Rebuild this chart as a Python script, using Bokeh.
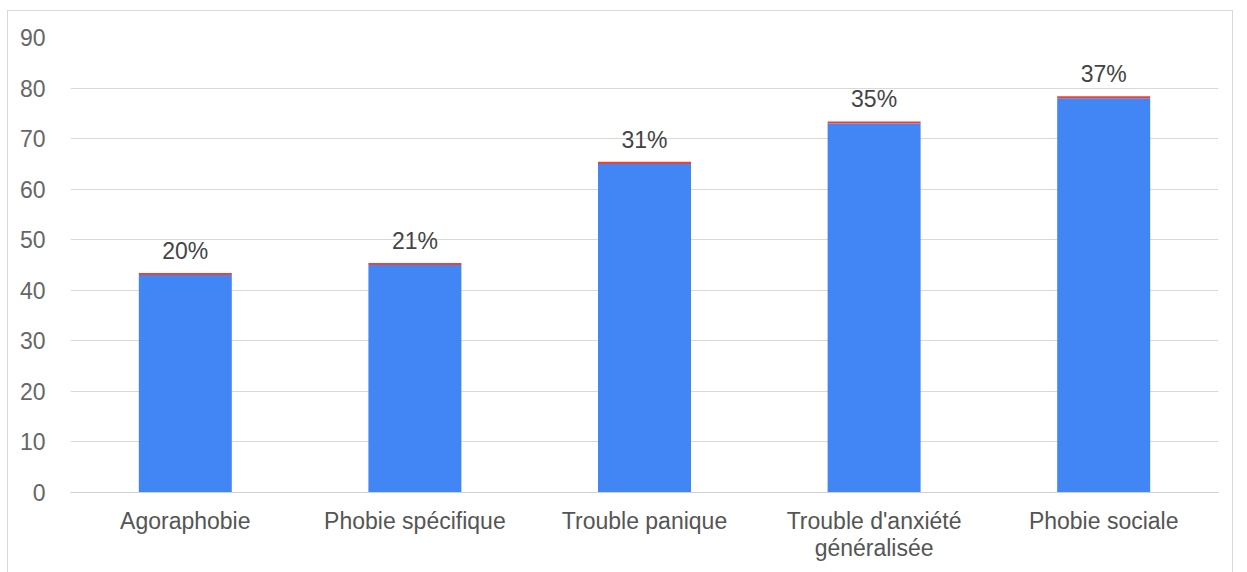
from bokeh.plotting import figure
from bokeh.models import ColumnDataSource, FactorRange, Range1d, SingleIntervalTicker, LabelSet
from bokeh.core.properties import value
from bokeh.embed import file_html
from bokeh.resources import INLINE

categories = ["Agoraphobie", "Phobie spécifique", "Trouble panique",
              "Trouble d'anxiété\ngénéralisée", "Phobie sociale"]
blue_values = [43, 45, 65, 73, 78]
red_values = [0.4, 0.4, 0.4, 0.4, 0.4]
pct_labels = ["20%", "21%", "31%", "35%", "37%"]

totals = [b + r for b, r in zip(blue_values, red_values)]
src = ColumnDataSource(dict(cat=categories, blue=blue_values, red=red_values,
                            total=totals, lab=pct_labels))

FONT = "Liberation Sans"

p = figure(x_range=FactorRange(*categories), y_range=Range1d(0, 90),
           width=1226, height=563, output_backend="svg", toolbar_location=None,
           min_border_left=62, min_border_right=16, min_border_top=26, min_border_bottom=82)
p.styles = {"margin": "10px 0 0 7px", "border": "1px solid #d9d9d9"}

p.vbar_stack(["blue", "red"], x="cat", width=0.405, color=["#4285f4", "#ea4335"],
             line_color=None, source=src)

labels = LabelSet(x="cat", y="total", text="lab", source=src, text_align="center",
                  text_baseline="alphabetic", y_offset=14, text_font_size=value("23px"),
                  text_color=value("#444444"), text_font=value(FONT))
p.add_layout(labels)

p.outline_line_color = None
p.xgrid.grid_line_color = None
p.ygrid.grid_line_color = "#d9d9d9"
p.ygrid.ticker = SingleIntervalTicker(interval=10)

p.yaxis.ticker = SingleIntervalTicker(interval=10)
p.yaxis.axis_line_color = None
p.yaxis.major_tick_line_color = None
p.yaxis.minor_tick_line_color = None
p.yaxis.major_label_text_font = FONT
p.yaxis.major_label_text_font_size = "23px"
p.yaxis.major_label_text_color = "#666666"
p.yaxis.major_label_standoff = 19

p.xaxis.axis_line_color = "#d0d0d0"
p.xaxis.major_tick_line_color = None
p.xaxis.minor_tick_line_color = None
p.xaxis.major_label_text_font = FONT
p.xaxis.major_label_text_font_size = "23px"
p.xaxis.major_label_text_color = "#555555"
p.xaxis.major_label_standoff = 9
p.xaxis.major_label_text_line_height = 1.05

open("out.html", "w").write(file_html(p, INLINE))
